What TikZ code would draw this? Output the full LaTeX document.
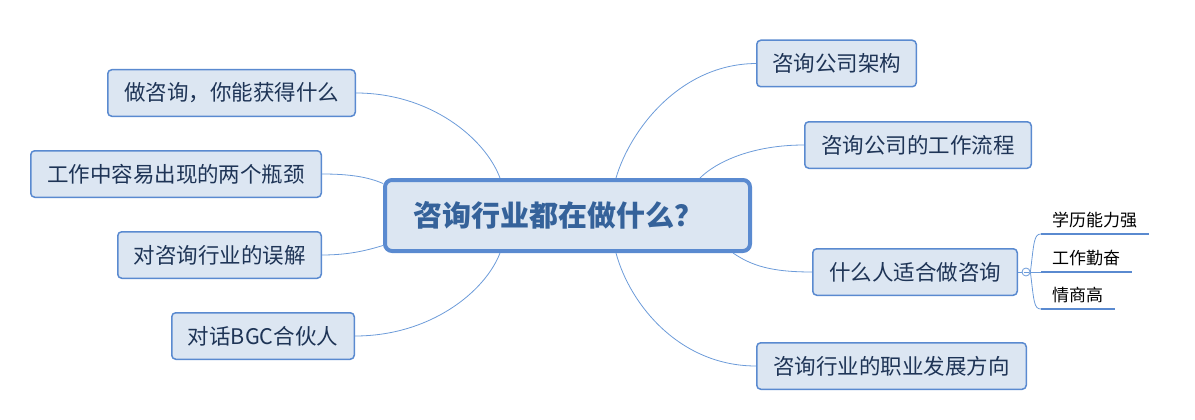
\documentclass[tikz,border=0pt]{standalone}
\usepackage{fontspec}
\newfontfamily\cjk{Noto Sans CJK SC}
\usetikzlibrary{calc}
\definecolor{boxfill}{HTML}{DCE6F2}
\definecolor{boxline}{HTML}{5A8AD0}
\definecolor{maintext}{HTML}{35629A}
\definecolor{childtext}{HTML}{1E3456}
\definecolor{conn}{HTML}{6C9BD9}
\tikzset{
  mainbox/.style={draw=boxline, fill=boxfill, line width=4pt, rounded corners=7pt,
    inner sep=0pt, minimum width=365pt, minimum height=71pt,
    font=\cjk\bfseries\fontsize{29}{32}\selectfont, text=maintext},
  childbox/.style={draw=boxline, fill=boxfill, line width=1.5pt, rounded corners=4pt,
    inner sep=0pt, minimum height=46.5pt,
    font=\cjk\fontsize{21.5}{25}\selectfont, text=childtext},
  subitem/.style={inner xsep=11pt, inner ysep=0pt, minimum height=28pt, align=left,
    anchor=south west, font=\cjk\fontsize{17}{20}\selectfont, text=black},
  underline/.style={draw=boxline, line width=2.5pt},
  link/.style={draw=conn, line width=0.8pt},
  toggle/.style={circle, draw=conn, fill=white, line width=0.8pt, inner sep=0pt, minimum size=8pt}
}
\begin{document}
\begin{tikzpicture}[x=1pt,y=-1pt]
\useasboundingbox (0,0) rectangle (1195,420);
% central
\node[mainbox] (c) at (567.5,215.5) {咨询行业都在做什么？\hspace*{19pt}};
% left children
\node[childbox, minimum width=247.5pt] (a) at (231.5,93) {做咨询，你能获得什么};
\node[childbox, minimum width=290.5pt] (b) at (176,174) {工作中容易出现的两个瓶颈};
\node[childbox, minimum width=203.5pt] (cc) at (219.5,255) {对咨询行业的误解};
\node[childbox, minimum width=182.5pt] (d) at (263,336) {对话BGC合伙人};
% right children
\node[childbox, minimum width=159.5pt] (e) at (836.5,63.5) {咨询公司架构};
\node[childbox, minimum width=226.5pt] (f) at (918,145) {咨询公司的工作流程};
\node[childbox, minimum width=204.5pt] (g) at (915,272) {什么人适合做咨询};
\node[childbox, minimum width=269.5pt] (h) at (891.5,366) {咨询行业的职业发展方向};
% connectors
\path[link] (a.east) .. controls (430,93) and (485,138) .. ($(c.north west)+(117,0)$);
\path[link] (b.east) .. controls (350,174) and (368,177) .. ($(c.west)+(0,-32)$);
\path[link] (cc.east) .. controls (350,255) and (368,250) .. ($(c.west)+(0,30)$);
\path[link] (d.east) .. controls (430,336) and (485,292) .. ($(c.south west)+(117,0)$);
\path[link] (e.west) .. controls (680,64) and (630,130) .. ($(c.north west)+(233,0)$);
\path[link] (f.west) .. controls (752,145) and (716,162) .. ($(c.north west)+(317,0)$);
\path[link] (g.west) .. controls (772,272) and (752,266) .. ($(c.south east)+(-19,0)$);
\path[link] (h.west) .. controls (680,366) and (630,305) .. ($(c.south west)+(233,0)$);
% sub items
\node[subitem, text width=86pt] (s1) at (1041,234) {学历能力强};
\node[subitem, text width=69pt] (s2) at (1041,272) {工作勤奋};
\node[subitem, text width=52pt] (s3) at (1041,309) {情商高};
\path[underline] (s1.south west) -- (s1.south east);
\path[underline] (s2.south west) -- (s2.south east);
\path[underline] (s3.south west) -- (s3.south east);
\node[toggle] (t) at (1026,272) {};
\path[link] (g.east) -- (t.west);
\path[link] (t.east) -- (s2.south west);
\path[link] (t.east) .. controls (1034,242) and (1034,234) .. (s1.south west);
\path[link] (t.east) .. controls (1034,302) and (1034,309) .. (s3.south west);
\draw[conn, line width=0.8pt] ($(t.center)+(-2.5,0)$) -- ($(t.center)+(2.5,0)$);
\end{tikzpicture}
\end{document}
